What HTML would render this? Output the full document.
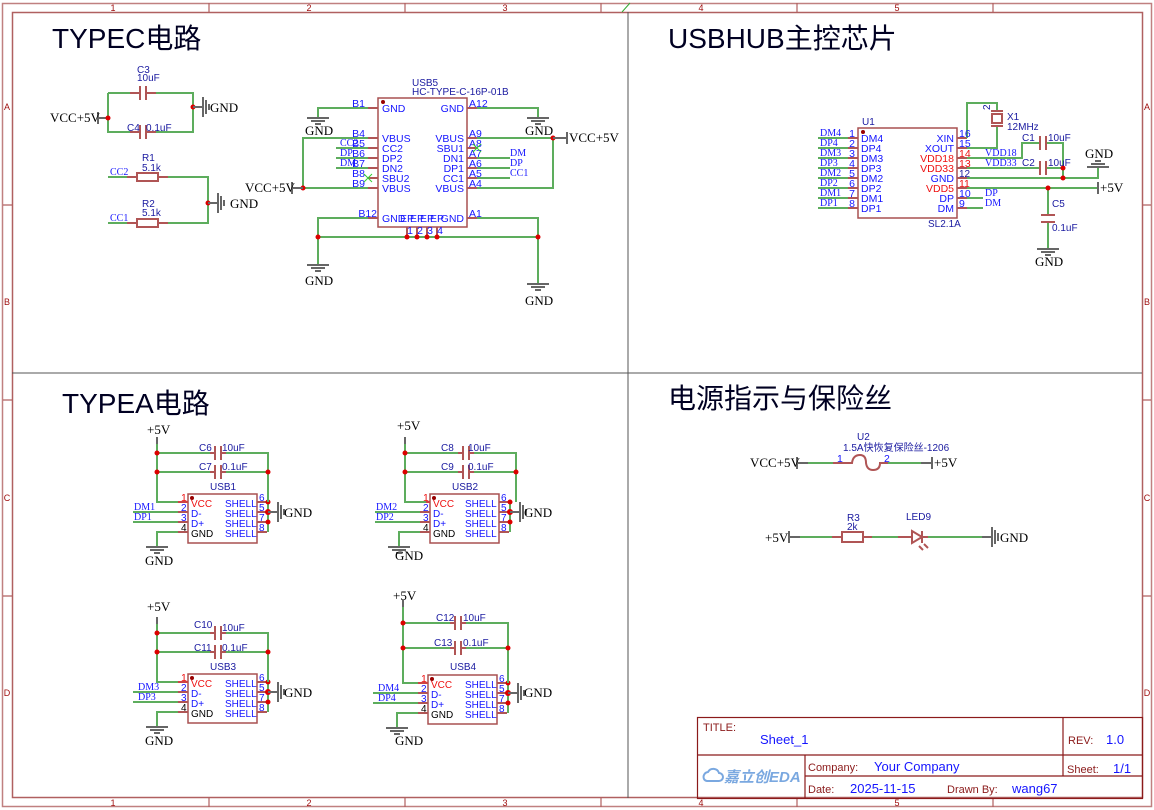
<!DOCTYPE html>
<html><head><meta charset="utf-8"><style>
html,body{margin:0;padding:0;background:#fff;}
svg{display:block;}
.w{stroke:#5dad5d;stroke-width:2;fill:none;}
.p{stroke:#b05555;stroke-width:2;fill:none;}
.pr{stroke:#c44;stroke-width:2;fill:none;}
.b{stroke:#a85050;stroke-width:1.5;fill:none;}
.g{stroke:#666;stroke-width:2;fill:none;}
.n{fill:#d00;}
.t{font-family:"Liberation Sans",sans-serif;font-size:10px;fill:#1a1aa0;}
.pn{font-family:"Liberation Sans",sans-serif;font-size:10.5px;fill:#1515ff;}
.pa{font-family:"Liberation Sans",sans-serif;font-size:10px;fill:#1515ff;}
.pnr{font-family:"Liberation Sans",sans-serif;font-size:10.5px;fill:#ee1111;}
.nl{font-family:"Liberation Serif",serif;font-size:10px;fill:#1515ff;}
.sl{font-family:"Liberation Serif",serif;font-size:13px;fill:#000;}
.h{font-family:"Liberation Sans","Noto Sans CJK SC",sans-serif;font-size:28px;fill:#000022;}
.fr{font-family:"Liberation Sans",sans-serif;font-size:9px;fill:#a01010;}
.tb{font-family:"Liberation Sans",sans-serif;font-size:11px;fill:#8b1a1a;}
.tv{font-family:"Liberation Sans",sans-serif;font-size:13px;fill:#1515ff;}
</style></head><body>
<svg width="1154" height="810" viewBox="0 0 1154 810" xmlns="http://www.w3.org/2000/svg">
<defs>
<g id="gd"><path d="M-11 0H11M-7 3H7M-3 6H3" class="g"/></g>
<g id="gr"><path d="M0 0H10M10 -10V10M13 -7V7M16 -3V3" class="g"/></g>
<g id="gu"><path d="M-11 0H11M-7 -3H7M-3 -6H3" class="g"/></g>
</defs>
<!-- frame -->
<rect x="2.5" y="3.5" width="1149" height="803" fill="none" stroke="#c08080" stroke-width="1.5"/>
<rect x="12.5" y="12.5" width="1130" height="785" fill="none" stroke="#b06060" stroke-width="1.5"/>
<path d="M209 3V12M405 3V12M601 3V12M797 3V12M993 3V12M209 798V807M405 798V807M601 798V807M797 798V807M993 798V807M3 205H12M3 400H12M3 596H12M1142 205H1151M1142 400H1151M1142 596H1151" stroke="#b06060" stroke-width="1.2"/>
<g class="fr" text-anchor="middle">
<text x="113" y="11">1</text><text x="309" y="11">2</text><text x="505" y="11">3</text><text x="701" y="11">4</text><text x="897" y="11">5</text>
<text x="113" y="806">1</text><text x="309" y="806">2</text><text x="505" y="806">3</text><text x="701" y="806">4</text><text x="897" y="806">5</text>
<text x="7" y="110">A</text><text x="7" y="305">B</text><text x="7" y="501">C</text><text x="7" y="696">D</text>
<text x="1147" y="110">A</text><text x="1147" y="305">B</text><text x="1147" y="501">C</text><text x="1147" y="696">D</text>
</g>
<path d="M622 12L630 3" stroke="#3a3" stroke-width="1"/>
<path d="M628 12V798M12 373H1142" stroke="#555" stroke-width="1"/>

<text class="h" x="52" y="48">TYPEC电路</text>
<text class="h" x="668" y="48">USBHUB主控芯片</text>
<text class="h" x="62" y="413">TYPEA电路</text>
<text class="h" x="668" y="408">电源指示与保险丝</text>

<!-- TYPEC left caps/resistors -->
<path class="w" d="M108 93H130M156 93H193V132H156M130 132H108V93"/>
<path class="p" d="M130 93H140M146 93H156M140 86V100M146 86V100M130 132H140M146 132H156M140 125V139M146 125V139"/>
<path class="g" d="M98 112V124M98 118H108"/>
<text class="sl" x="50" y="122">VCC+5V</text>
<circle class="n" cx="108" cy="118" r="2.5"/><circle class="n" cx="193" cy="107" r="2.5"/>
<use href="#gr" x="193" y="107"/><text class="sl" x="210" y="112">GND</text>
<g class="t"><text x="137" y="73">C3</text><text x="137" y="81">10uF</text><text x="127" y="131">C4</text><text x="146" y="131">0.1uF</text>
<text x="142" y="161">R1</text><text x="142" y="171">5.1k</text><text x="142" y="207">R2</text><text x="142" y="216">5.1k</text></g>
<path class="w" d="M108 177H127M168 177H208V223H168M127 223H108"/>
<path class="p" d="M127 177H137M158 177H168M127 223H137M158 223H168"/>
<rect x="137" y="173" width="21" height="8" class="p" stroke-width="1.5"/><rect x="137" y="219" width="21" height="8" class="p" stroke-width="1.5"/>
<circle class="n" cx="208" cy="203" r="2.5"/><use href="#gr" x="208" y="203"/><text class="sl" x="230" y="208">GND</text>
<text class="nl" x="110" y="175">CC2</text><text class="nl" x="110" y="221">CC1</text>

<!-- USB5 -->
<rect x="378" y="98" width="89" height="129" class="b"/>
<circle cx="383" cy="102" r="2" fill="#900"/>
<text class="t" x="412" y="86">USB5</text><text class="t" x="412" y="95">HC-TYPE-C-16P-01B</text>
<path class="p" d="M368 108H378M368 138H378M368 148H378M368 158H378M368 168H378M368 178H378M368 188H378M368 218H378M467 108H477M467 138H477M467 148H477M467 158H477M467 168H477M467 178H477M467 188H477M467 218H477M407 227V237M417 227V237M427 227V237M437 227V237"/>
<g class="pn"><text x="365" y="107" text-anchor="end">B1</text><text x="365" y="137" text-anchor="end">B4</text><text x="365" y="147" text-anchor="end">B5</text><text x="365" y="157" text-anchor="end">B6</text><text x="365" y="167" text-anchor="end">B7</text><text x="365" y="177" text-anchor="end">B8</text><text x="365" y="187" text-anchor="end">B9</text><text x="377" y="217" text-anchor="end">B12</text>
<text x="469" y="107">A12</text><text x="469" y="137">A9</text><text x="469" y="147">A8</text><text x="469" y="157">A7</text><text x="469" y="167">A6</text><text x="469" y="177">A5</text><text x="469" y="187">A4</text><text x="469" y="217">A1</text>
<text x="382" y="112">GND</text><text x="382" y="142">VBUS</text><text x="382" y="152">CC2</text><text x="382" y="162">DP2</text><text x="382" y="172">DN2</text><text x="382" y="182">SBU2</text><text x="382" y="192">VBUS</text><text x="382" y="222">GND</text>
<text x="464" y="112" text-anchor="end">GND</text><text x="464" y="142" text-anchor="end">VBUS</text><text x="464" y="152" text-anchor="end">SBU1</text><text x="464" y="162" text-anchor="end">DN1</text><text x="464" y="172" text-anchor="end">DP1</text><text x="464" y="182" text-anchor="end">CC1</text><text x="464" y="192" text-anchor="end">VBUS</text><text x="464" y="222" text-anchor="end">GND</text></g>
<g class="pn" font-size="8" text-anchor="middle"><text x="407" y="222">EP</text><text x="417" y="222">EP</text><text x="427" y="222">EP</text><text x="437" y="222">EP</text>
<text x="410" y="234">1</text><text x="420" y="234">2</text><text x="430" y="234">3</text><text x="440" y="234">4</text></g>
<path class="w" d="M368 108H318V118M477 108H538V118M477 138H553V188H477M368 138H303V188H368M336 148H368M336 158H368M336 168H368M477 158H510M477 168H510M477 178H510M368 218H318V265M318 237H538M477 218H538V284"/>
<path d="M364 174L372 182M364 182L372 174M473 144L481 152M473 152L481 144" stroke="#3c3" stroke-width="1"/>
<use href="#gd" x="318" y="118"/><text class="sl" x="305" y="135">GND</text>
<use href="#gd" x="538" y="118"/><text class="sl" x="525" y="135">GND</text>
<use href="#gd" x="318" y="265"/><text class="sl" x="305" y="285">GND</text>
<use href="#gd" x="538" y="284"/><text class="sl" x="525" y="305">GND</text>
<circle class="n" cx="553" cy="138" r="2.5"/><circle class="n" cx="303" cy="188" r="2.5"/>
<circle class="n" cx="318" cy="237" r="2.5"/><circle class="n" cx="407" cy="237" r="2.5"/><circle class="n" cx="417" cy="237" r="2.5"/><circle class="n" cx="427" cy="237" r="2.5"/><circle class="n" cx="437" cy="237" r="2.5"/><circle class="n" cx="538" cy="237" r="2.5"/>
<path class="g" d="M553 138H567M567 132V144M292 188H303M292 182V194"/>
<text class="sl" x="569" y="142">VCC+5V</text><text class="sl" x="245" y="192">VCC+5V</text>
<g class="nl"><text x="340" y="146">CC2</text><text x="340" y="156">DP</text><text x="340" y="166">DM</text><text x="510" y="156">DM</text><text x="510" y="166">DP</text><text x="510" y="176">CC1</text></g>

<!-- U1 -->
<rect x="858" y="128" width="99" height="90" class="b"/>
<circle cx="863" cy="132" r="2" fill="#900"/>
<text class="t" x="862" y="125">U1</text><text class="t" x="928" y="227">SL2.1A</text>
<path class="p" d="M848 138H858M848 148H858M848 158H858M848 168H858M848 178H858M848 188H858M848 198H858M848 208H858M957 138H967M957 148H967M957 158H967M957 168H967M957 178H967M957 188H967M957 198H967M957 208H967"/>
<path class="w" d="M818 138H848M818 148H848M818 158H848M818 168H848M818 178H848M818 188H848M818 198H848M818 208H848M967 138V103H997V112M967 148H997V125M967 158H1022V143H1040M1046 143H1063V178M967 168H1040M1046 168H1063M967 178H1098V168M967 188H1098M1048 188V215M1048 222V249M967 198H983M967 208H983"/>
<path class="p" d="M1040 136V150M1046 136V150M1040 161V175M1046 161V175M1041 215H1055M1041 222H1055"/>
<rect x="992" y="114" width="10" height="9" class="p" stroke-width="1.5"/><path class="p" d="M991 111H1003M991 126H1003" stroke-width="1.5"/>
<circle class="n" cx="1063" cy="168" r="2.5"/><circle class="n" cx="1063" cy="178" r="2.5"/><circle class="n" cx="1048" cy="188" r="2.5"/>
<use href="#gu" x="1098" y="167"/><text class="sl" x="1085" y="158">GND</text>
<path class="g" d="M1098 182V194"/><text class="sl" x="1100" y="192">+5V</text>
<use href="#gd" x="1048" y="249"/><text class="sl" x="1035" y="266">GND</text>
<g class="pn"><text x="852" y="137" text-anchor="middle">1</text><text x="852" y="147" text-anchor="middle">2</text><text x="852" y="157" text-anchor="middle">3</text><text x="852" y="167" text-anchor="middle">4</text><text x="852" y="177" text-anchor="middle">5</text><text x="852" y="187" text-anchor="middle">6</text><text x="852" y="197" text-anchor="middle">7</text><text x="852" y="207" text-anchor="middle">8</text>
<text x="861" y="142">DM4</text><text x="861" y="152">DP4</text><text x="861" y="162">DM3</text><text x="861" y="172">DP3</text><text x="861" y="182">DM2</text><text x="861" y="192">DP2</text><text x="861" y="202">DM1</text><text x="861" y="212">DP1</text>
<text x="954" y="142" text-anchor="end">XIN</text><text x="954" y="152" text-anchor="end">XOUT</text><text x="954" y="202" text-anchor="end">DP</text><text x="954" y="212" text-anchor="end">DM</text>
<text x="959" y="137">16</text><text x="959" y="147">15</text><text x="959" y="207">9</text><text x="959" y="197">10</text></g>
<text class="pn" x="954" y="182" text-anchor="end" fill="#000">GND</text><text class="t" x="959" y="177" fill="#000">12</text>
<g class="pnr"><text x="954" y="162" text-anchor="end">VDD18</text><text x="954" y="172" text-anchor="end">VDD33</text><text x="954" y="192" text-anchor="end">VDD5</text><text x="959" y="157">14</text><text x="959" y="167">13</text><text x="959" y="187">11</text></g>
<g class="nl"><text x="820" y="136">DM4</text><text x="820" y="146">DP4</text><text x="820" y="156">DM3</text><text x="820" y="166">DP3</text><text x="820" y="176">DM2</text><text x="820" y="186">DP2</text><text x="820" y="196">DM1</text><text x="820" y="206">DP1</text>
<text x="985" y="156">VDD18</text><text x="985" y="166">VDD33</text><text x="985" y="196">DP</text><text x="985" y="206">DM</text></g>
<g class="t"><text x="1007" y="120">X1</text><text x="1007" y="130">12MHz</text><text x="1022" y="141">C1</text><text x="1048" y="141">10uF</text><text x="1022" y="166">C2</text><text x="1048" y="166">10uF</text><text x="1052" y="207">C5</text><text x="1052" y="231">0.1uF</text></g>
<text class="t" x="990" y="110" transform="rotate(-90 990 110)" font-size="8">2</text>

<!-- USB-A box part -->
<defs>
<g id="ubox">
<rect x="188" y="494" width="69" height="49" class="b"/>
<circle cx="192" cy="498" r="2" fill="#900"/>
<path class="pr" d="M178 502H188"/>
<path class="p" d="M178 512H188M178 522H188M178 532H188M257 502H267M257 512H267M257 522H267M257 532H267"/>
<path class="w" d="M133 512H178M133 522H178M178 532H157V547"/>
<path class="w" d="M268 502V532"/>
<use href="#gd" x="157" y="547"/>
<circle class="n" cx="268" cy="502" r="2.5"/><circle class="n" cx="268" cy="512" r="3"/><circle class="n" cx="268" cy="522" r="2.5"/>
<use href="#gr" x="268" y="512"/>
</g>
<g id="ucap">
<path class="g" d="M157 437V444"/>
<path class="w" d="M157 444V502H178M157 453H210M226 453H268V502M157 472H210M226 472H268"/>
<path class="p" d="M210 453H215M221 453H226M215 446V460M221 446V460M210 472H215M221 472H226M215 465V479M221 465V479"/>
<circle class="n" cx="157" cy="453" r="2.5"/><circle class="n" cx="157" cy="472" r="2.5"/><circle class="n" cx="268" cy="472" r="2.5"/>
</g>
</defs>
<use href="#ubox"/><use href="#ucap"/>
<use href="#ubox" x="242" y="0"/><use href="#ucap" x="248" y="0"/>
<use href="#ubox" x="0" y="180"/><use href="#ucap" x="0" y="180"/>
<use href="#ubox" x="240" y="181"/>
<path class="g" d="M403 600V607"/>
<path class="w" d="M403 607V683H418M403 623H450M466 623H508V683M403 648H450M466 648H508"/>
<path class="p" d="M450 623H455M461 623H466M455 616V630M461 616V630M450 648H455M461 648H466M455 641V655M461 641V655"/>
<circle class="n" cx="403" cy="623" r="2.5"/><circle class="n" cx="403" cy="648" r="2.5"/><circle class="n" cx="508" cy="648" r="2.5"/>

<!-- USB-A texts -->
<g class="pa">
<text x="191" y="507" fill="#e11">VCC</text><text x="191" y="517">D-</text><text x="191" y="527">D+</text><text x="191" y="537" fill="#000">GND</text>
<text x="225" y="507">SHELL</text><text x="225" y="517">SHELL</text><text x="225" y="527">SHELL</text><text x="225" y="537">SHELL</text>
<text x="433" y="507" fill="#e11">VCC</text><text x="433" y="517">D-</text><text x="433" y="527">D+</text><text x="433" y="537" fill="#000">GND</text>
<text x="465" y="507">SHELL</text><text x="465" y="517">SHELL</text><text x="465" y="527">SHELL</text><text x="465" y="537">SHELL</text>
<text x="191" y="687" fill="#e11">VCC</text><text x="191" y="697">D-</text><text x="191" y="707">D+</text><text x="191" y="717" fill="#000">GND</text>
<text x="225" y="687">SHELL</text><text x="225" y="697">SHELL</text><text x="225" y="707">SHELL</text><text x="225" y="717">SHELL</text>
<text x="431" y="688" fill="#e11">VCC</text><text x="431" y="698">D-</text><text x="431" y="708">D+</text><text x="431" y="718" fill="#000">GND</text>
<text x="465" y="688">SHELL</text><text x="465" y="698">SHELL</text><text x="465" y="708">SHELL</text><text x="465" y="718">SHELL</text>
<text x="259" y="501">6</text><text x="259" y="511">5</text><text x="259" y="521">7</text><text x="259" y="531">8</text>
<text x="501" y="501">6</text><text x="501" y="511">5</text><text x="501" y="521">7</text><text x="501" y="531">8</text>
<text x="259" y="681">6</text><text x="259" y="691">5</text><text x="259" y="701">7</text><text x="259" y="711">8</text>
<text x="499" y="682">6</text><text x="499" y="692">5</text><text x="499" y="702">7</text><text x="499" y="712">8</text>
<text x="181" y="511">2</text><text x="181" y="521">3</text><text x="181" y="531" fill="#000">4</text>
<text x="423" y="511">2</text><text x="423" y="521">3</text><text x="423" y="531" fill="#000">4</text>
<text x="181" y="691">2</text><text x="181" y="701">3</text><text x="181" y="711" fill="#000">4</text>
<text x="421" y="692">2</text><text x="421" y="702">3</text><text x="421" y="712" fill="#000">4</text>
</g>
<g class="pnr"><text x="181" y="501">1</text><text x="423" y="501">1</text><text x="181" y="681">1</text><text x="421" y="682">1</text></g>
<g class="nl"><text x="134" y="510">DM1</text><text x="134" y="520">DP1</text><text x="376" y="510">DM2</text><text x="376" y="520">DP2</text><text x="138" y="690">DM3</text><text x="138" y="700">DP3</text><text x="378" y="691">DM4</text><text x="378" y="701">DP4</text></g>
<g class="sl"><text x="147" y="434">+5V</text><text x="397" y="430">+5V</text><text x="147" y="611">+5V</text><text x="393" y="600">+5V</text>
<text x="145" y="565">GND</text><text x="395" y="560">GND</text><text x="145" y="745">GND</text><text x="395" y="745">GND</text>
<text x="284" y="517">GND</text><text x="524" y="517">GND</text><text x="284" y="697">GND</text><text x="524" y="697">GND</text></g>
<g class="t"><text x="199" y="451">C6</text><text x="222" y="451">10uF</text><text x="199" y="470">C7</text><text x="222" y="470">0.1uF</text><text x="210" y="490">USB1</text>
<text x="441" y="451">C8</text><text x="468" y="451">10uF</text><text x="441" y="470">C9</text><text x="468" y="470">0.1uF</text><text x="452" y="490">USB2</text>
<text x="194" y="628">C10</text><text x="222" y="631">10uF</text><text x="194" y="651">C11</text><text x="222" y="651">0.1uF</text><text x="210" y="670">USB3</text>
<text x="436" y="621">C12</text><text x="463" y="621">10uF</text><text x="434" y="646">C13</text><text x="463" y="646">0.1uF</text><text x="450" y="670">USB4</text></g>

<!-- power section -->
<path class="g" d="M797 457V469M797 463H808M921 463H932M932 457V469"/>
<path class="w" d="M808 463H833M888 463H921"/>
<path class="p" d="M833 463H852Q853 455 860 455Q866 455 866 463Q867 470 873 470Q880 470 880 463H888"/>
<text class="sl" x="750" y="467">VCC+5V</text><text class="sl" x="934" y="467">+5V</text>
<text class="t" x="857" y="440">U2</text><text class="t" x="843" y="451" font-family="'Liberation Sans','Noto Sans CJK SC',sans-serif">1.5A快恢复保险丝-1206</text>
<text class="pn" x="837" y="462">1</text><text class="pn" x="884" y="462">2</text>
<path class="g" d="M789 531V543M789 537H800M982 537H992M992 527V547M995 530V544M998 533V541"/>
<path class="w" d="M800 537H832M872 537H898M928 537H982"/>
<path class="p" d="M832 537H842M863 537H872M898 537H912M922 537H928M912 531L922 537L912 543ZM922 531V543M919 546L923 550M924 544L928 548"/>
<rect x="842" y="532" width="21" height="10" class="p" stroke-width="1.5"/>
<text class="sl" x="765" y="542">+5V</text><text class="sl" x="1000" y="542">GND</text>
<text class="t" x="847" y="521">R3</text><text class="t" x="847" y="530">2k</text><text class="t" x="906" y="520">LED9</text>

<!-- title block -->
<rect x="697.5" y="717.5" width="445" height="81" fill="none" stroke="#8b1a1a" stroke-width="1.2"/>
<path d="M697 755H1142M805 776H1142M1063 717V776M805 755V798" stroke="#8b1a1a" stroke-width="1.2"/>
<text class="tb" x="703" y="731">TITLE:</text><text class="tv" x="760" y="744">Sheet_1</text>
<text class="tb" x="1068" y="744">REV:</text><text class="tv" x="1106" y="744">1.0</text>
<text class="tb" x="808" y="771">Company:</text><text class="tv" x="874" y="771">Your Company</text>
<text class="tb" x="1067" y="773">Sheet:</text><text class="tv" x="1113" y="773">1/1</text>
<text class="tb" x="808" y="793">Date:</text><text class="tv" x="850" y="793">2025-11-15</text>
<text class="tb" x="947" y="793">Drawn By:</text><text class="tv" x="1012" y="793">wang67</text>
<text x="724" y="782" font-family="'Liberation Sans','Noto Sans CJK SC',sans-serif" font-size="15" font-weight="bold" font-style="italic" fill="#7aa8e0">嘉立创EDA</text>
<path d="M704 779a5 5 0 0 1 4-7a6 6 0 0 1 11 1a4 4 0 0 1 0 8h-12a4 4 0 0 1-3-2z" fill="none" stroke="#7aa8e0" stroke-width="2"/>
</svg>
</body></html>
